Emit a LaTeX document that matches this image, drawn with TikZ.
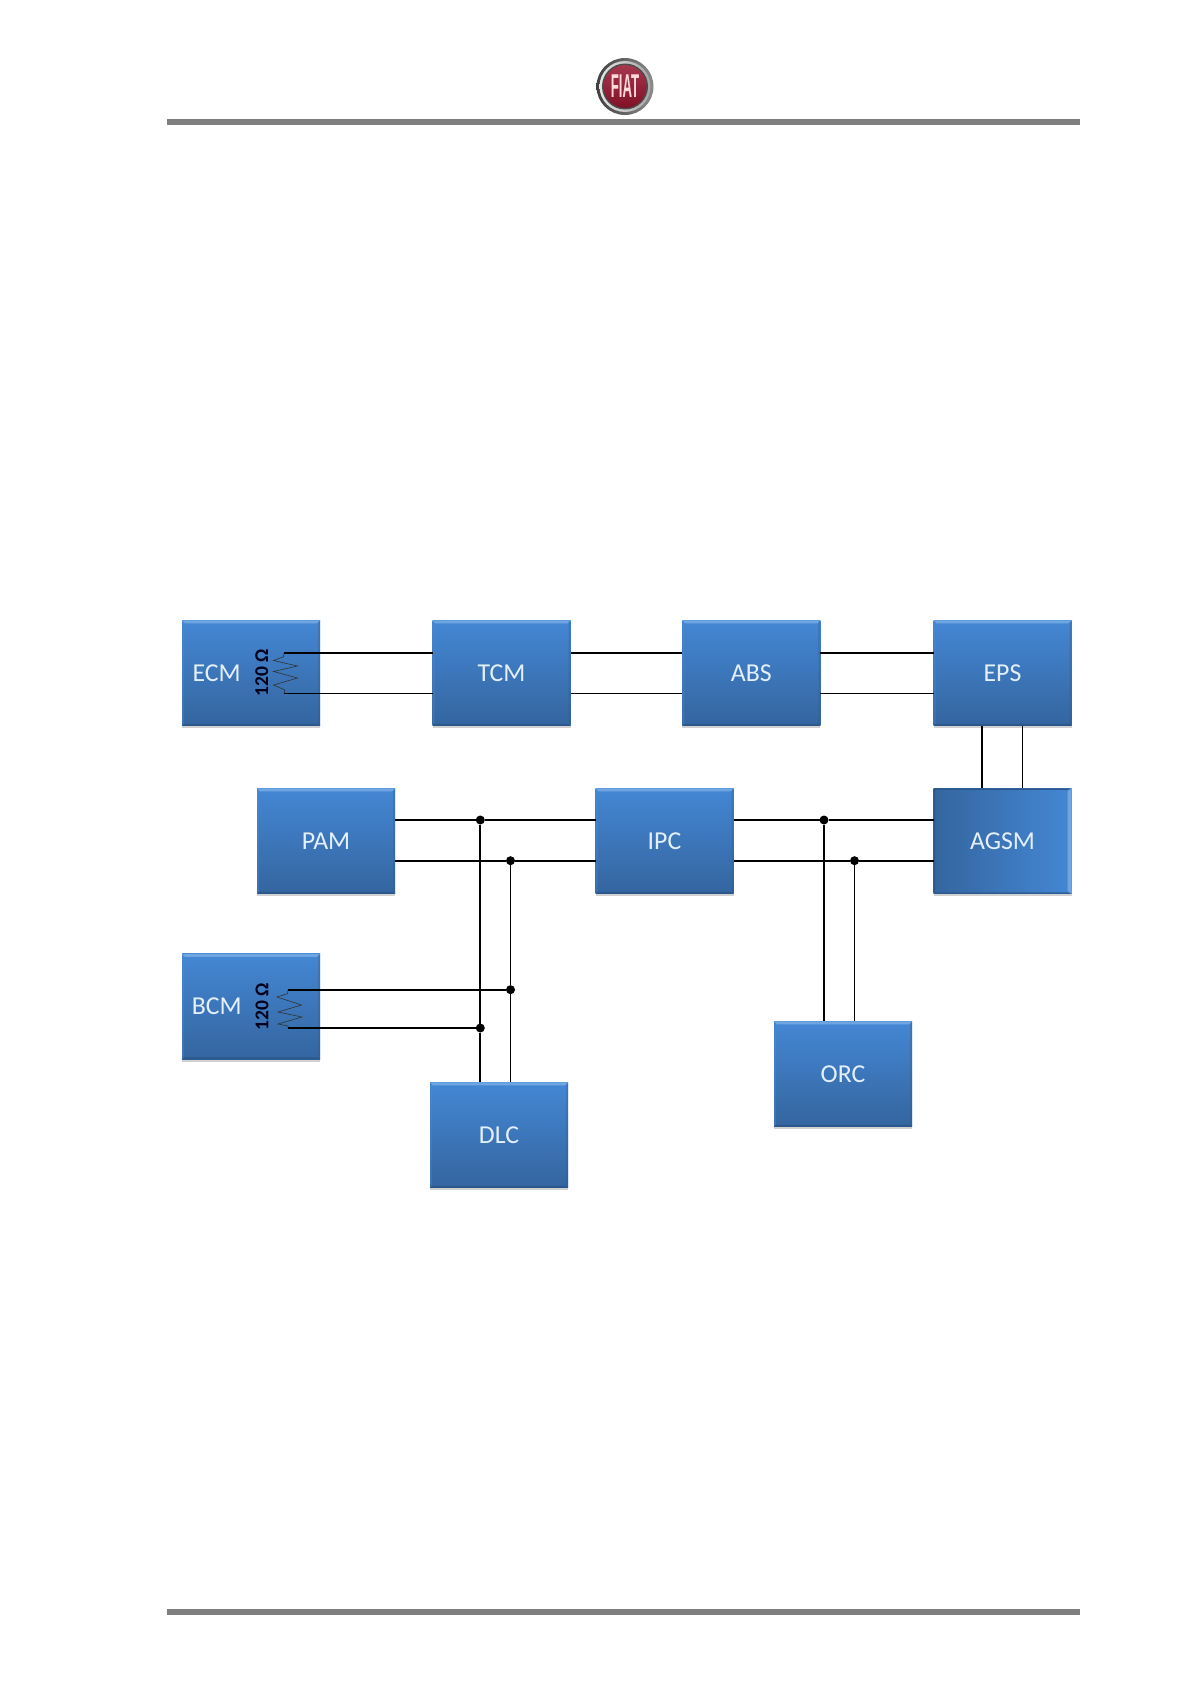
\documentclass[tikz,border=0pt]{standalone}
\usepackage{fontspec}
\setmainfont{Carlito}
\newfontfamily\logofont{Liberation Sans}
\usetikzlibrary{shadows,calc}
\definecolor{boxtop}{HTML}{4487D4}
\definecolor{boxbot}{HTML}{34659F}
\definecolor{bevlight}{HTML}{6FA6E2}
\definecolor{bevside}{HTML}{4A8AD2}
\definecolor{bevdark}{HTML}{2C578C}
\definecolor{boxtext}{HTML}{E4EFFA}
\definecolor{rulegray}{HTML}{7F7F7F}
\definecolor{logored}{HTML}{96142E}
\tikzset{
  x=1pt,y=-1pt,
  modbase/.style={rectangle,minimum width=138pt,minimum height=105.5pt,inner sep=0pt,outer sep=0pt,
    text=boxtext,font=\fontsize{25.8}{28}\selectfont,
    general shadow={fill=black,opacity=.18,shadow yshift=-2.5pt,shadow xshift=0pt}},
  modbox/.style={modbase,top color=boxtop,bottom color=boxbot,
    path picture={
      \coordinate (nw) at (path picture bounding box.north west);
      \coordinate (ne) at (path picture bounding box.north east);
      \coordinate (sw) at (path picture bounding box.south west);
      \coordinate (se) at (path picture bounding box.south east);
      \fill[bevlight] (nw) -- (ne) -- ($(ne)+(-3,3)$) -- ($(nw)+(3,3)$) -- cycle;
      \fill[bevside,opacity=.35] (nw) -- ($(nw)+(2,3)$) -- ($(sw)+(2,-2)$) -- (sw) -- cycle;
      \fill[bevdark,opacity=.3] (ne) -- ($(ne)+(-2,3)$) -- ($(se)+(-2,-2)$) -- (se) -- cycle;
      \fill[bevdark] (sw) -- ($(sw)+(2,-2)$) -- ($(se)+(-2,-2)$) -- (se) -- cycle;
    }},
  agsmbox/.style={modbase,left color=boxbot,right color=boxtop,
    path picture={
      \coordinate (nw) at (path picture bounding box.north west);
      \coordinate (ne) at (path picture bounding box.north east);
      \coordinate (sw) at (path picture bounding box.south west);
      \coordinate (se) at (path picture bounding box.south east);
      \fill[bevlight] (ne) -- (se) -- ($(se)+(-4,-3)$) -- ($(ne)+(-4,3)$) -- cycle;
      \fill[bevdark] (sw) -- (nw) -- ($(nw)+(1.5,1.5)$) -- ($(sw)+(1.5,-1.5)$) -- cycle;
      \fill[bevdark] (nw) -- (ne) -- ($(ne)+(-4,1.5)$) -- ($(nw)+(1.5,1.5)$) -- cycle;
      \fill[bevdark,opacity=.8] (sw) -- (se) -- ($(se)+(-4,-1.5)$) -- ($(sw)+(1.5,-1.5)$) -- cycle;
    }},
  wire/.style={draw=black,line width=1.7pt},
  thickwire/.style={draw=black,line width=2.4pt},
  junction/.style={circle,fill=black,draw=none,minimum size=9pt,inner sep=0pt,outer sep=0pt},
  resistor/.style={draw=black!80,line width=.6pt,line join=miter},
  ohm/.style={rotate=90,font=\bfseries\fontsize{19.5}{20}\selectfont,text=black!90!blue,inner sep=0pt},
  headrule/.style={fill=rulegray,draw=none}
}
\begin{document}
\begin{tikzpicture}
\useasboundingbox (0,0) rectangle (1191,1684);
\fill[white] (0,0) rectangle (1191,1684);

% header / footer
\fill[headrule] (166.5,119) rectangle (1080,125);
\fill[headrule] (166.5,1609) rectangle (1080,1615);

% logo
\node[circle,minimum size=57pt,inner sep=0pt,left color=black!75,right color=black!45] (logoring) at (625,86.5) {};
\node[circle,minimum size=51pt,inner sep=0pt,left color=black!10,right color=black!35] (logoinner) at (625,86.5) {};
\node[circle,minimum size=46pt,inner sep=0pt,fill=black!70] (logodark) at (625,86.5) {};
\node[circle,minimum size=43pt,inner sep=0pt,top color=logored!85!white,bottom color=logored!85!black] (logored) at (625,86.5) {};
\node[xscale=.4,font=\logofont\bfseries\fontsize{33}{33}\selectfont,text=white!85!red,inner sep=0pt] (logotext) at (625,86.5) {FIAT};

% modules
\node[modbox] (ECM) at (251,673) {\raisebox{-1pt}{ECM}\hspace{68.6pt}\null};
\node[modbox] (TCM) at (501.5,673) {\raisebox{-1pt}{TCM}};
\node[modbox] (ABS) at (751.3,673) {\raisebox{-1pt}{ABS}};
\node[modbox] (EPS) at (1002.5,673) {\raisebox{-1pt}{EPS}};
\node[modbox] (PAM) at (326,841) {\raisebox{-1pt}{PAM}};
\node[modbox] (IPC) at (664.5,841) {\raisebox{-1pt}{IPC}};
\node[agsmbox] (AGSM) at (1002.5,841) {\raisebox{-1pt}{AGSM}};
\node[modbox] (BCM) at (251,1006.5) {\raisebox{-1pt}{BCM}\hspace{68.6pt}\null};
\node[modbox] (DLC) at (499,1135) {\raisebox{-1pt}{DLC}};
\node[modbox] (ORC) at (843,1074) {\raisebox{-1pt}{ORC}};

% resistor labels
\node[ohm] (ohmE) at (261.7,672.5) {120 Ω};
\node[ohm] (ohmB) at (262,1006.5) {120 Ω};

% ports
\coordinate (rEa) at (284,652.8);
\coordinate (rEb) at (284,693.6);
\coordinate (rBa) at (288,989.7);
\coordinate (rBb) at (288,1028);

% resistors
\draw[resistor] (rEa) -- ++(-.5,4) -- (273.5,660.5) -- (297.5,666) -- (273.5,671.5) -- (297.5,678) -- (273.5,685) -- (285,690) -- (rEb);
\draw[resistor] (rBa) -- ++(-.5,4) -- (277,997) -- (301.5,1005) -- (278,1012) -- (302,1017) -- (278,1024) -- (288,1026) -- (rBb);

% junctions
\node[junction] (j1) at (480.3,820) {};
\node[junction] (j2) at (510.5,860.7) {};
\node[junction] (j3) at (510.5,989.7) {};
\node[junction] (j4) at (480.3,1028) {};
\node[junction] (j5) at (824,820) {};
\node[junction] (j6) at (854.5,860.7) {};

% top row
\draw[wire] (rEa) -- (rEa -| TCM.west);
\draw[wire] (rEb) -- (rEb -| TCM.west);
\draw[wire] (rEa -| TCM.east) -- (rEa -| ABS.west);
\draw[wire] (rEb -| TCM.east) -- (rEb -| ABS.west);
\draw[wire] (rEa -| ABS.east) -- (rEa -| EPS.west);
\draw[wire] (rEb -| ABS.east) -- (rEb -| EPS.west);

% EPS to AGSM
\coordinate (v1) at (982,760);
\coordinate (v2) at (1022.5,760);
\draw[thickwire] (v1 |- EPS.south) -- (v1 |- AGSM.north);
\draw[wire] (v2 |- EPS.south) -- (v2 |- AGSM.north);

% middle row
\draw[wire] (j1 -| PAM.east) -- (j1) -- (j1 -| IPC.west);
\draw[wire] (j2 -| PAM.east) -- (j2) -- (j2 -| IPC.west);
\draw[wire] (j5 -| IPC.east) -- (j5) -- (j5 -| AGSM.west);
\draw[wire] (j6 -| IPC.east) -- (j6) -- (j6 -| AGSM.west);

% BCM bus
\draw[wire] (rBa) -- (j3);
\draw[wire] (rBb) -- (j4);

% drops
\draw[wire] (j1) -- (j4) -- (j4 |- DLC.north);
\draw[wire] (j2) -- (j3) -- (j3 |- DLC.north);
\draw[wire] (j5) -- (j5 |- ORC.north);
\draw[wire] (j6) -- (j6 |- ORC.north);
\end{tikzpicture}
\end{document}
